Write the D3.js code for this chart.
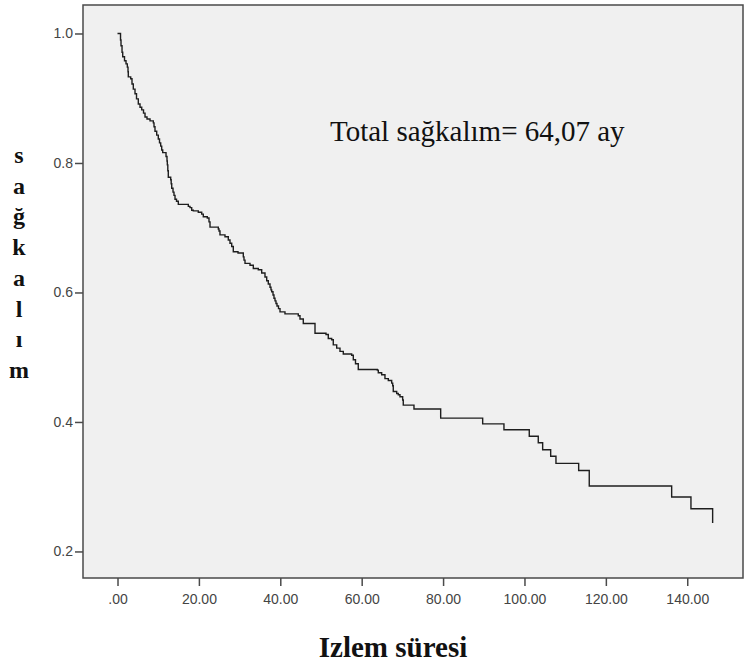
<!DOCTYPE html>
<html>
<head>
<meta charset="utf-8">
<script src="https://cdn.jsdelivr.net/npm/d3@7/dist/d3.min.js"></script>
<style>
  html, body { margin: 0; padding: 0; background: #ffffff; }
  svg { display: block; }
</style>
</head>
<body>
<svg id="chart" width="753" height="668"></svg>
<script>
// Kaplan–Meier step data (time in months, survival probability after the drop)
const times = [0, 0.74, 0.86, 1.11, 1.28, 1.72, 2.09, 2.41, 2.58, 2.65,
  3.24, 3.56, 3.88, 4.30, 4.67, 5.11, 5.53, 5.95, 6.39, 6.76,
  7.25, 7.99, 8.80, 8.97, 9.21, 9.63, 10.02, 10.32, 10.61, 10.86,
  11.11, 11.92, 12.16, 12.24, 12.36, 12.48, 13.07, 13.19, 13.32, 13.64,
  13.88, 14.13, 14.50, 14.94, 17.40, 17.81, 18.23, 18.62, 19.85, 20.69,
  21.08, 22.06, 22.48, 22.73, 24.77, 24.94, 25.18, 26.41, 27.22, 27.64,
  28.06, 28.45, 29.61, 30.91, 31.08, 31.33, 32.56, 33.37, 34.59, 35.43,
  36.24, 36.66, 37.05, 37.47, 37.71, 37.89, 38.21, 38.45, 38.70, 38.94,
  39.19, 39.56, 39.93, 41.15, 44.42, 44.84, 45.65, 48.53, 51.23, 51.79,
  52.63, 53.02, 53.86, 54.67, 55.48, 57.54, 57.94, 58.48, 59.16, 63.83,
  64.08, 64.91, 65.72, 66.54, 67.37, 67.62, 67.76, 68.60, 68.99, 69.41,
  70.07, 70.22, 72.85, 79.41, 89.73, 94.96, 101.18, 103.39, 104.47, 106.44,
  107.74, 113.32, 115.92, 136.17, 140.91, 146.24];
const survival = [1.0, 0.990, 0.981, 0.971, 0.964, 0.958, 0.953, 0.948, 0.941, 0.933,
  0.930, 0.922, 0.914, 0.907, 0.899, 0.891, 0.886, 0.882, 0.877, 0.871,
  0.868, 0.865, 0.862, 0.856, 0.849, 0.843, 0.837, 0.831, 0.826, 0.820,
  0.816, 0.810, 0.803, 0.797, 0.788, 0.778, 0.774, 0.768, 0.761, 0.755,
  0.750, 0.744, 0.741, 0.736, 0.733, 0.731, 0.727, 0.726, 0.724, 0.721,
  0.717, 0.715, 0.709, 0.701, 0.698, 0.695, 0.689, 0.686, 0.681, 0.676,
  0.671, 0.663, 0.661, 0.655, 0.650, 0.645, 0.642, 0.637, 0.635, 0.630,
  0.624, 0.618, 0.613, 0.608, 0.604, 0.601, 0.596, 0.591, 0.587, 0.583,
  0.579, 0.575, 0.570, 0.567, 0.564, 0.559, 0.552, 0.537, 0.535, 0.529,
  0.527, 0.519, 0.514, 0.509, 0.505, 0.503, 0.496, 0.490, 0.481, 0.480,
  0.476, 0.473, 0.467, 0.464, 0.460, 0.456, 0.447, 0.444, 0.442, 0.439,
  0.434, 0.426, 0.420, 0.406, 0.397, 0.388, 0.378, 0.368, 0.357, 0.347,
  0.336, 0.325, 0.301, 0.284, 0.266, 0.244];

const xTicks = [0, 20, 40, 60, 80, 100, 120, 140];
const xTickLabels = [".00", "20.00", "40.00", "60.00", "80.00", "100.00", "120.00", "140.00"];
const yTicks = [0.2, 0.4, 0.6, 0.8, 1.0];
const yTickLabels = ["0.2", "0.4", "0.6", "0.8", "1.0"];
const yTitleLetters = ["s", "a", "ğ", "k", "a", "l", "ı", "m"];
const xTitle = "Izlem süresi";
const annotation = "Total sağkalım= 64,07 ay";

const svg = d3.select("#chart");
const plot = { left: 83, top: 5, right: 743, bottom: 578 };

const x = d3.scaleLinear().domain([-8.48, 153.7]).range([plot.left, plot.right]);
const y = d3.scaleLinear().domain([0.159, 1.044]).range([plot.bottom, plot.top]);

// plot background
svg.append("rect")
  .attr("x", plot.left).attr("y", plot.top)
  .attr("width", plot.right - plot.left).attr("height", plot.bottom - plot.top)
  .attr("fill", "#f0f0f0");

// survival curve
const pts = times.map((t, i) => [t, survival[i]]);
const line = d3.line().x(d => x(d[0])).y(d => y(d[1])).curve(d3.curveStepAfter);
svg.append("path")
  .datum(pts)
  .attr("d", line)
  .attr("fill", "none")
  .attr("stroke", "#1e1e1e")
  .attr("stroke-width", 1.4);

// frame
svg.append("rect")
  .attr("x", plot.left).attr("y", plot.top)
  .attr("width", plot.right - plot.left).attr("height", plot.bottom - plot.top)
  .attr("fill", "none")
  .attr("stroke", "#4a4a4a")
  .attr("stroke-width", 1.5);

// axes
const tickFont = "'Liberation Sans', Arial, sans-serif";
const yAxis = svg.append("g")
  .attr("transform", `translate(${plot.left},0)`)
  .call(d3.axisLeft(y).tickValues(yTicks).tickSize(8).tickPadding(2)
    .tickFormat((d, i) => yTickLabels[i]));
const xAxis = svg.append("g")
  .attr("transform", `translate(0,${plot.bottom})`)
  .call(d3.axisBottom(x).tickValues(xTicks).tickSize(8).tickPadding(8)
    .tickFormat((d, i) => xTickLabels[i]));
[yAxis, xAxis].forEach(g => {
  g.select(".domain").remove();
  g.selectAll(".tick line").attr("stroke", "#4a4a4a").attr("stroke-width", 1.5);
  g.selectAll(".tick text")
    .attr("fill", "#444")
    .style("font-family", tickFont)
    .style("font-size", "14px");
});

// annotation
svg.append("text")
  .attr("x", 330).attr("y", 141)
  .style("font-family", "'Liberation Serif', 'Times New Roman', serif")
  .style("font-size", "29px")
  .attr("fill", "#111")
  .text(annotation);

// x title
svg.append("text")
  .attr("x", 393).attr("y", 657)
  .attr("text-anchor", "middle")
  .style("font-family", "'Liberation Serif', 'Times New Roman', serif")
  .style("font-size", "29px")
  .style("font-weight", "bold")
  .attr("fill", "#111")
  .text(xTitle);

// y title stacked letters
svg.append("g").selectAll("text")
  .data(yTitleLetters)
  .join("text")
  .attr("x", 19)
  .attr("y", (d, i) => 163 + i * 30.7)
  .attr("text-anchor", "middle")
  .style("font-family", "'Liberation Serif', 'Times New Roman', serif")
  .style("font-size", "24px")
  .style("font-weight", "bold")
  .attr("fill", "#111")
  .text(d => d);
</script>
</body>
</html>
